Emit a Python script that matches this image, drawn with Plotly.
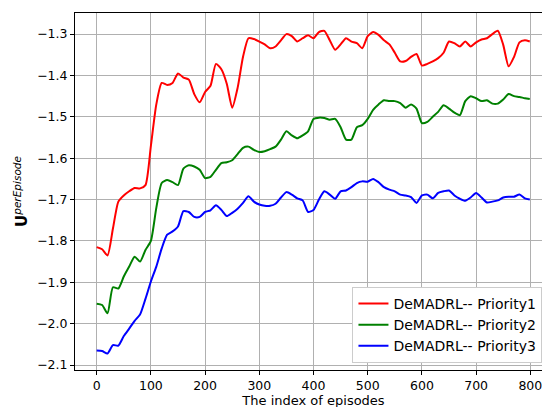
import plotly.graph_objects as go

# episode index (sampled every 10 episodes)
episodes = [0, 10, 20, 30, 40, 50, 60, 70, 80, 90,
            100, 110, 120, 130, 140, 150, 160, 170, 180, 190,
            200, 210, 220, 230, 240, 250, 260, 270, 280, 290,
            300, 310, 320, 330, 340, 350, 360, 370, 380, 390,
            400, 410, 420, 430, 440, 450, 460, 470, 480, 490,
            500, 510, 520, 530, 540, 550, 560, 570, 580, 590,
            600, 610, 620, 630, 640, 650, 660, 670, 680, 690,
            700, 710, 720, 730, 740, 750, 760, 770, 780, 790, 799]

priority1 = [-1.815, -1.820, -1.835, -1.770, -1.705, -1.690, -1.680, -1.672, -1.673, -1.665,
             -1.570, -1.470, -1.418, -1.423, -1.418, -1.395, -1.405, -1.410, -1.445, -1.465,
             -1.440, -1.425, -1.372, -1.385, -1.420, -1.478, -1.430, -1.355, -1.310, -1.312,
             -1.318, -1.325, -1.334, -1.330, -1.315, -1.300, -1.305, -1.318, -1.310, -1.303,
             -1.310, -1.295, -1.292, -1.315, -1.338, -1.325, -1.310, -1.318, -1.322, -1.334,
             -1.305, -1.295, -1.302, -1.315, -1.325, -1.345, -1.366, -1.365, -1.355, -1.348,
             -1.376, -1.372, -1.366, -1.358, -1.345, -1.318, -1.322, -1.330, -1.318, -1.330,
             -1.320, -1.313, -1.310, -1.300, -1.292, -1.326, -1.378, -1.355, -1.320, -1.315, -1.318]

priority2 = [-1.952, -1.955, -1.975, -1.912, -1.915, -1.886, -1.862, -1.838, -1.850, -1.822,
             -1.800, -1.720, -1.660, -1.653, -1.658, -1.665, -1.625, -1.617, -1.620, -1.628,
             -1.648, -1.645, -1.628, -1.612, -1.610, -1.605, -1.590, -1.575, -1.572, -1.580,
             -1.585, -1.583, -1.578, -1.572, -1.555, -1.535, -1.545, -1.552, -1.545, -1.535,
             -1.505, -1.502, -1.503, -1.507, -1.505, -1.525, -1.555, -1.555, -1.525, -1.520,
             -1.505, -1.483, -1.470, -1.460, -1.462, -1.462, -1.467, -1.478, -1.470, -1.480,
             -1.515, -1.512, -1.500, -1.488, -1.472, -1.480, -1.490, -1.496, -1.462, -1.450,
             -1.455, -1.462, -1.460, -1.468, -1.468, -1.458, -1.445, -1.450, -1.452, -1.455, -1.457]

priority3 = [-2.065, -2.066, -2.072, -2.052, -2.053, -2.030, -2.012, -1.993, -1.978, -1.940,
             -1.898, -1.862, -1.818, -1.785, -1.777, -1.765, -1.728, -1.730, -1.742, -1.742,
             -1.730, -1.726, -1.714, -1.725, -1.740, -1.732, -1.722, -1.708, -1.692, -1.705,
             -1.712, -1.715, -1.715, -1.710, -1.695, -1.682, -1.688, -1.697, -1.702, -1.730,
             -1.725, -1.700, -1.680, -1.688, -1.698, -1.680, -1.678, -1.670, -1.660, -1.656,
             -1.657, -1.650, -1.658, -1.670, -1.676, -1.680, -1.688, -1.690, -1.694, -1.708,
             -1.690, -1.688, -1.697, -1.684, -1.680, -1.678, -1.690, -1.698, -1.703, -1.695,
             -1.684, -1.695, -1.707, -1.705, -1.702, -1.695, -1.693, -1.693, -1.688, -1.697, -1.700]

series = [
    ('DeMADRL-- Priority1', priority1, '#ff0000'),
    ('DeMADRL-- Priority2', priority2, '#008000'),
    ('DeMADRL-- Priority3', priority3, '#0000ff'),
]

fig = go.Figure()
for name, values, color in series:
    fig.add_trace(go.Scatter(x=episodes, y=values, mode='lines', name=name,
                             line=dict(color=color, width=2, shape='spline', smoothing=0.6)))

axis_style = dict(
    showgrid=True, gridcolor='#b0b0b0', gridwidth=1,
    showline=True, linecolor='black', linewidth=1, mirror=True,
    ticks='outside', ticklen=4, tickcolor='black',
    zeroline=False,
    tickfont=dict(size=12.5, color='black'),
)

fig.update_xaxes(range=[-40, 840], tickmode='linear', tick0=0, dtick=100,
                 title=dict(text='The index of episodes', font=dict(size=13, color='black'),
                            standoff=3),
                 **axis_style)
fig.update_yaxes(range=[-2.112, -1.249], tickmode='linear', tick0=-2.1, dtick=0.1,
                 tickformat='.1f',
                 title=dict(text='<b>U</b><sup><i>perEpisode</i></sup>',
                            font=dict(size=15, color='black'), standoff=5),
                 **axis_style)

fig.update_layout(
    width=550, height=407,
    margin=dict(l=67, r=6, t=5, b=45),
    paper_bgcolor='white', plot_bgcolor='white',
    font=dict(family='DejaVu Sans', color='black'),
    legend=dict(x=0.98, y=0.02, xanchor='right', yanchor='bottom',
                bgcolor='white', bordercolor='#cccccc', borderwidth=1,
                font=dict(size=14), tracegroupgap=0, itemwidth=30),
)

fig.write_html("out.html")
